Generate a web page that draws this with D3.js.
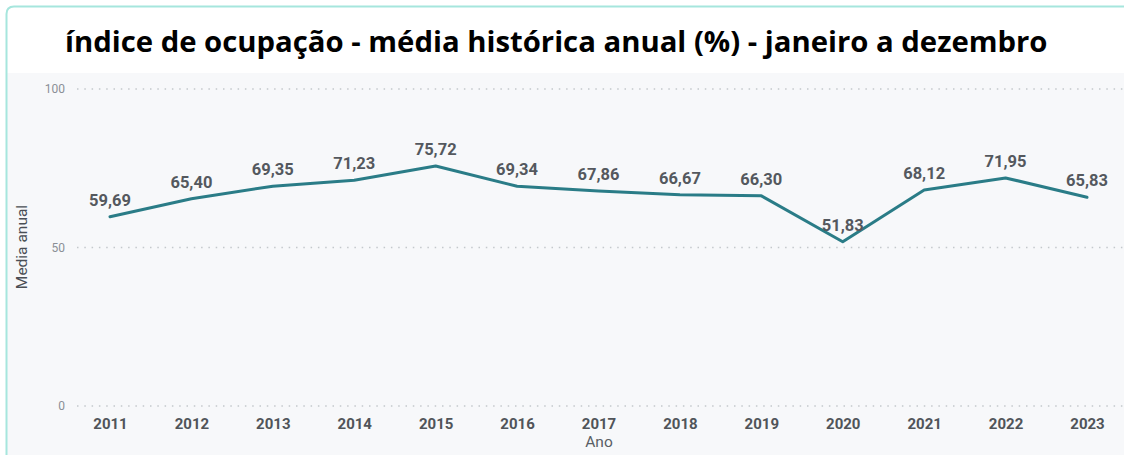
<!DOCTYPE html>
<html><head><meta charset="utf-8">
<script src="https://cdn.jsdelivr.net/npm/d3@7"></script>
<style>
html,body{margin:0;padding:0;background:#fff;}
svg{display:block;}
</style></head>
<body>
<svg id="chart" width="1124" height="455"></svg>
<script>
const years = ["2011","2012","2013","2014","2015","2016","2017","2018","2019","2020","2021","2022","2023"];
const values = [59.69,65.40,69.35,71.23,75.72,69.34,67.86,66.67,66.30,51.83,68.12,71.95,65.83];
const yTicks = [0,50,100];
const title = "índice de ocupação - média histórica anual (%) - janeiro a dezembro";
const xTitle = "Ano";
const yTitle = "Media anual";

const svg = d3.select("#chart");
const W = 1124, H = 455;

// card
svg.append("rect").attr("x",0).attr("y",0).attr("width",W).attr("height",H).attr("fill","#fff");
svg.append("rect").attr("x",7).attr("y",73).attr("width",W-7).attr("height",H-73).attr("fill","#f7f8fa");
svg.append("path")
  .attr("d",`M6.5,${H+2} L6.5,14 Q6.5,6.5 14,6.5 L${W+2},6.5`)
  .attr("fill","none").attr("stroke","#a6e6dd").attr("stroke-width",2);

svg.append("text").attr("x",65).attr("y",52)
  .attr("font-family","'Open Sans', sans-serif").attr("font-weight",700)
  .attr("font-size",29.3).attr("fill","#000").text(title);

const x = d3.scalePoint().domain(years).range([110,1087]);
const y = d3.scaleLinear().domain([0,100]).range([406,89]);

// gridlines
const grid = svg.append("g");
grid.selectAll("line").data(yTicks).join("line")
  .attr("x1",77).attr("x2",W).attr("y1",d=>y(d)).attr("y2",d=>y(d))
  .attr("stroke","#c4c8cc").attr("stroke-width",1.5).attr("stroke-dasharray","1.5,5.8");

// y axis
const yAxis = svg.append("g").attr("transform","translate(65,0)")
  .call(d3.axisLeft(y).tickValues(yTicks).tickSize(0).tickPadding(0));
yAxis.select(".domain").remove();
yAxis.selectAll("text").attr("font-family","Roboto, sans-serif").attr("font-size",12)
  .attr("fill","#8a8f96").attr("dy","0.32em");

// x axis
const xAxis = svg.append("g").attr("transform","translate(0,418)")
  .call(d3.axisBottom(x).tickSize(0).tickPadding(0));
xAxis.select(".domain").remove();
xAxis.selectAll("text").attr("font-family","Roboto, sans-serif").attr("font-weight",700)
  .attr("font-size",15).attr("fill","#505459").attr("dy","0.71em");

svg.append("text").attr("x",599).attr("y",447).attr("text-anchor","middle")
  .attr("font-family","Roboto, sans-serif").attr("font-size",15.5).attr("fill","#5a5f65").text(xTitle);

svg.append("text").attr("transform","translate(27,247) rotate(-90)").attr("text-anchor","middle")
  .attr("font-family","Roboto, sans-serif").attr("font-size",15.5).attr("fill","#4a4f55").text(yTitle);

// line
const line = d3.line().x((d,i)=>x(years[i])).y(d=>y(d));
svg.append("path").datum(values).attr("d",line)
  .attr("fill","none").attr("stroke","#2a7c87").attr("stroke-width",3)
  .attr("stroke-linejoin","round").attr("stroke-linecap","round");

// labels
svg.append("g").selectAll("text").data(values).join("text")
  .attr("x",(d,i)=>x(years[i]))
  .attr("y",d=>y(d) - 11)
  .attr("text-anchor","middle")
  .attr("font-family","Roboto, sans-serif").attr("font-weight",700)
  .attr("font-size",16.5).attr("fill","#54585e")
  .text(d=>d.toFixed(2).replace(".",","));
</script>
</body></html>
